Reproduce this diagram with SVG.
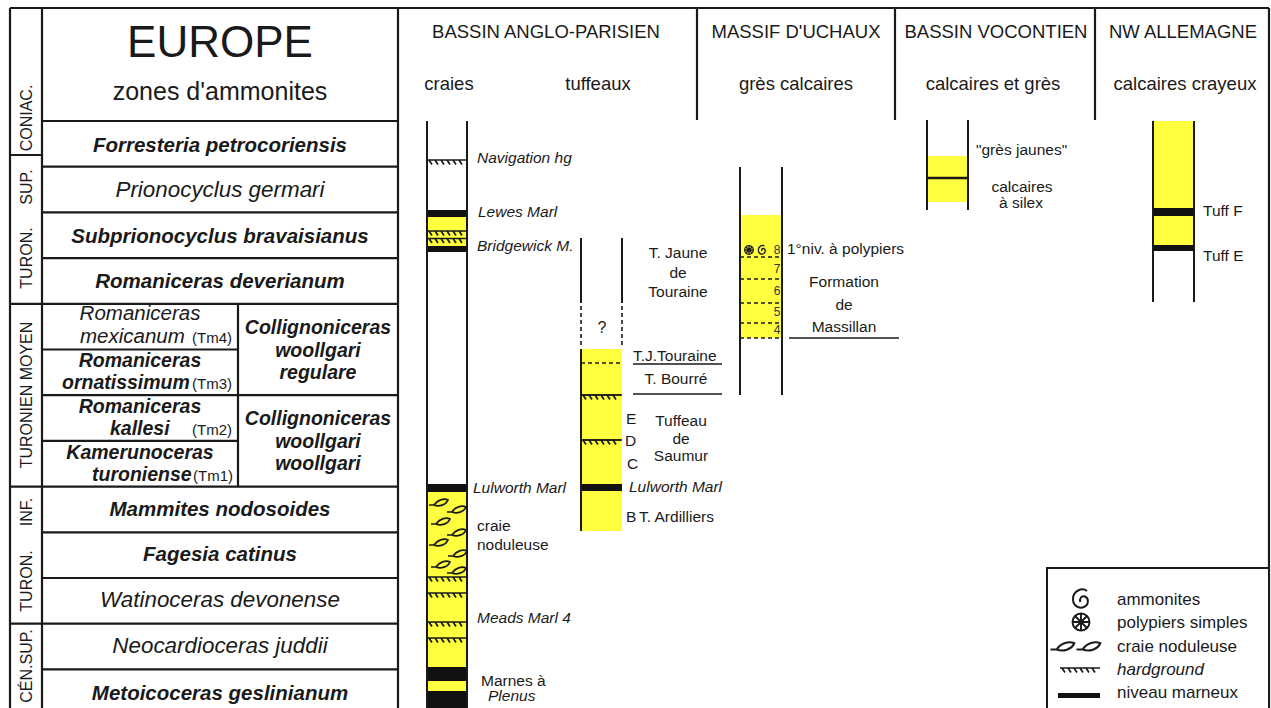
<svg xmlns="http://www.w3.org/2000/svg" width="1271" height="708" viewBox="0 0 1271 708">
<style>
text{font-family:"Liberation Sans",Arial,Helvetica,sans-serif;fill:#1a1a1a}
.ln{stroke:#1a1a1a;stroke-width:2.2;fill:none}
.col{stroke:#1a1a1a;stroke-width:2;fill:none}
.dash{stroke:#1a1a1a;stroke-width:1.6;stroke-dasharray:4,3;fill:none}
.thin{stroke:#1a1a1a;stroke-width:1.5;fill:none}
.y{fill:#FFFF40}
.k{fill:#111}
.zb{font-size:20.5px;font-weight:bold;font-style:italic}
.zm{font-size:19.5px;font-weight:bold;font-style:italic}
.zi{font-size:22.4px;font-style:italic}
.zs{font-size:20.5px;font-style:italic}
.tm{font-size:15px}
.m{text-anchor:middle}
.st{font-size:16px}
.hd{font-size:18.5px}
.lb{font-size:15.5px}
.lbi{font-size:15.5px;font-style:italic}
.num{font-size:12px;fill:#333;text-anchor:middle}
.lg{font-size:17px}
.sym{stroke:#1a1a1a;stroke-width:1.7;fill:none}
</style>
<defs>
<g id="hg" class="sym"><path d="M0,0H40M2,0l3,4.5M8,0l3,4.5M14,0l3,4.5M20,0l3,4.5M26,0l3,4.5M32,0l3,4.5"/></g>
<g id="nod" class="sym"><path d="M-10,2H-5M-5,2C-2,-3 5,-5 9,-3C7,2 0,4 -5,2Z"/></g>
</defs>
<rect width="1271" height="708" fill="#fff"/>

<g id="frame">
<path class="ln" d="M10,8H1269M10,8V708M42,8V708M398,8V708M1269,8V708M697,8V120M895,8V120M1095,8V120"/>
<path class="ln" d="M42,121H398M42,166.7H398M42,212.4H398M42,258.1H398M42,303.8H398M42,349.5H238M42,395.2H398M42,440.9H238M42,486.6H398M42,532.3H398M42,578H398M42,623.7H398M42,669.4H398M238,303.8V486.6"/>
<path class="ln" d="M10,155H42M10,303.8H42M10,486.6H42M10,623.7H42"/>
</g>

<g id="stages" class="st">
<text class="m" transform="translate(32,118) rotate(-90)">CONIAC.</text>
<text class="m" transform="translate(32,187) rotate(-90)">SUP.</text>
<text class="m" transform="translate(32,258) rotate(-90)">TURON.</text>
<text class="m" transform="translate(32,395) rotate(-90)">TURONIEN MOYEN</text>
<text class="m" transform="translate(32,512) rotate(-90)">INF.</text>
<text class="m" transform="translate(32,581) rotate(-90)">TURON.</text>
<text class="m" transform="translate(32,666) rotate(-90)">CÉN.SUP.</text>
</g>

<g id="zones">
<text class="m" x="220" y="57" font-size="44">EUROPE</text>
<text class="m" x="220" y="100" font-size="25">zones d'ammonites</text>
<text class="m zb" x="220" y="152">Forresteria petrocoriensis</text>
<text class="m zi" x="220" y="197">Prionocyclus germari</text>
<text class="m zb" x="220" y="243">Subprionocyclus bravaisianus</text>
<text class="m zb" x="220" y="288">Romaniceras deverianum</text>
<text class="m zs" x="140" y="320">Romaniceras</text>
<text class="zs" x="80" y="343">mexicanum</text>
<text class="tm" x="192" y="343">(Tm4)</text>
<text class="m zm" x="140" y="367">Romaniceras</text>
<text class="zm" x="62" y="389">ornatissimum</text>
<text class="tm" x="192" y="389">(Tm3)</text>
<text class="m zm" x="140" y="413">Romaniceras</text>
<text class="zm" x="110" y="435">kallesi</text>
<text class="tm" x="192" y="435">(Tm2)</text>
<text class="m zm" x="140" y="459">Kamerunoceras</text>
<text class="zm" x="92" y="481">turoniense</text>
<text class="tm" x="193" y="481">(Tm1)</text>
<text class="m zm" x="318" y="334">Collignoniceras</text>
<text class="m zm" x="318" y="357">woollgari</text>
<text class="m zm" x="318" y="379">regulare</text>
<text class="m zm" x="318" y="425">Collignoniceras</text>
<text class="m zm" x="318" y="448">woollgari</text>
<text class="m zm" x="318" y="470">woollgari</text>
<text class="m zb" x="220" y="516">Mammites nodosoides</text>
<text class="m zb" x="220" y="561">Fagesia catinus</text>
<text class="m zi" x="220" y="607">Watinoceras devonense</text>
<text class="m zi" x="220" y="653">Neocardioceras juddii</text>
<text class="m zb" x="220" y="700" font-size="21.5">Metoicoceras geslinianum</text>
</g>

<g id="headers" class="hd">
<text class="m" x="546" y="38">BASSIN ANGLO-PARISIEN</text>
<text class="m" x="796" y="38">MASSIF D'UCHAUX</text>
<text class="m" x="996" y="38">BASSIN VOCONTIEN</text>
<text class="m" x="1183" y="38">NW ALLEMAGNE</text>
<text class="m" x="449" y="90">craies</text>
<text class="m" x="598" y="90">tuffeaux</text>
<text class="m" x="796" y="90">grès calcaires</text>
<text class="m" x="993" y="90">calcaires et grès</text>
<text class="m" x="1185" y="90">calcaires crayeux</text>
</g>

<g id="craies">
<rect class="y" x="427" y="217" width="40" height="29"/>
<rect class="k" x="427" y="210" width="40" height="7"/>
<use href="#hg" x="427" y="231" style="stroke-width:2"/>
<use href="#hg" x="427" y="238.5"/>
<rect class="k" x="427" y="246" width="40" height="6"/>
<use href="#hg" x="427" y="160"/>
<rect class="k" x="427" y="484" width="40" height="8"/>
<rect class="y" x="427" y="492" width="40" height="175"/>
<use href="#nod" x="439" y="503"/>
<use href="#nod" x="457" y="510"/>
<use href="#nod" x="441" y="522"/>
<use href="#nod" x="457" y="533"/>
<use href="#nod" x="439" y="543"/>
<use href="#nod" x="458" y="554"/>
<use href="#nod" x="441" y="565"/>
<use href="#nod" x="457" y="571"/>
<use href="#hg" x="427" y="577"/>
<use href="#hg" x="427" y="593"/>
<use href="#hg" x="427" y="622"/>
<use href="#hg" x="427" y="638"/>
<rect class="k" x="427" y="667" width="40" height="14"/>
<rect class="y" x="427" y="681" width="40" height="10"/>
<rect class="k" x="427" y="691" width="40" height="17"/>
<path class="col" d="M427,121V708M467,121V708"/>
<text class="lbi" x="477" y="163">Navigation hg</text>
<text class="lbi" x="478" y="217">Lewes Marl</text>
<text class="lbi" x="477" y="251">Bridgewick M.</text>
<text class="lbi" x="473" y="493">Lulworth Marl</text>
<text class="lb" x="477" y="531">craie</text>
<text class="lb" x="477" y="550">noduleuse</text>
<text class="lbi" x="477" y="623">Meads Marl 4</text>
<text class="lb" x="481" y="686">Marnes à</text>
<text class="lbi" x="488" y="701">Plenus</text>
</g>

<g id="tuffeaux">
<rect class="y" x="581" y="349" width="41" height="182"/>
<path class="dash" d="M581,363H622"/>
<use href="#hg" x="581" y="395"/>
<path class="thin" d="M581,395H622M581,440H622"/>
<use href="#hg" x="581" y="440"/>
<rect class="k" x="581" y="484" width="41" height="7"/>
<path class="col" d="M581,238V303M622,238V303M581,349V531"/>
<path class="dash" d="M581,306V347M622,306V347"/>
<text class="m" x="602" y="333" font-size="16">?</text>
<text class="m lb" x="678" y="258">T. Jaune</text>
<text class="m lb" x="678" y="278">de</text>
<text class="m lb" x="678" y="297">Touraine</text>
<text class="lb" x="633" y="361">T.J.Touraine</text>
<path class="thin" d="M633,364H722M633,394H722"/>
<text class="m lb" x="676" y="384">T. Bourré</text>
<text class="lb" x="626" y="424">E</text>
<text class="lb" x="625" y="446">D</text>
<text class="lb" x="627" y="469">C</text>
<text class="m lb" x="681" y="426">Tuffeau</text>
<text class="m lb" x="681" y="444">de</text>
<text class="m lb" x="681" y="461">Saumur</text>
<text class="lbi" x="629" y="492">Lulworth Marl</text>
<text class="lb" x="626" y="522">B</text>
<text class="lb" x="639" y="522">T. Ardilliers</text>
</g>

<g id="uchaux">
<rect class="y" x="740" y="215" width="42" height="123"/>
<path class="dash" d="M740,257H782M740,279H782M740,303H782M740,323H782M740,338H782"/>
<path class="col" d="M740,167V395M782,167V395"/>
<g class="sym" style="stroke-width:1.3">
<circle cx="749" cy="250" r="4.3"/>
<path d="M744.7,250H753.3M749,245.7V254.3M746,247L752,253M752,247L746,253"/>
<path d="M764.5,246C762,244.5 758.3,246.5 758.3,250C758.3,253.5 761.5,255 764,253.5C766,252 765.5,249 763.5,248.5C762,248.2 761.2,249.8 762,251"/>
</g>
<text class="num" x="777" y="254">8</text>
<text class="num" x="777" y="273">7</text>
<text class="num" x="777" y="295">6</text>
<text class="num" x="777" y="316">5</text>
<text class="num" x="777" y="334">4</text>
<text class="lb" x="787" y="254">1°niv. à polypiers</text>
<text class="m lb" x="844" y="287">Formation</text>
<text class="m lb" x="844" y="310">de</text>
<text class="m lb" x="844" y="332">Massillan</text>
<path class="thin" d="M789,338H899"/>
</g>

<g id="vocontien">
<rect class="y" x="927" y="156" width="41" height="46"/>
<path class="col" d="M927,178H968" style="stroke-width:2.5"/>
<path class="col" d="M927,120V210M968,120V210"/>
<text class="lb" x="976" y="155">"grès jaunes"</text>
<text class="m lb" x="1022" y="192">calcaires</text>
<text class="m lb" x="1021" y="208">à silex</text>
</g>

<g id="allemagne">
<rect class="y" x="1153" y="121" width="41" height="129"/>
<rect class="k" x="1153" y="208" width="41" height="8"/>
<rect class="k" x="1153" y="245" width="41" height="6"/>
<path class="col" d="M1153,121V302M1194,121V302"/>
<text class="lb" x="1203" y="216">Tuff F</text>
<text class="lb" x="1203" y="261">Tuff E</text>
</g>

<g id="legend">
<rect x="1047" y="568" width="222" height="145" fill="#fff" stroke="#1a1a1a" stroke-width="2"/>
<path class="sym" style="stroke-width:2" d="M1087,591C1082,587 1073,591 1073,599C1073,606 1079,609 1084,607C1089,605 1089,598 1085,596.5C1081.5,595.5 1079,598.5 1080.5,602"/>
<g class="sym" style="stroke-width:1.9">
<circle cx="1081" cy="622" r="8.5"/>
<path d="M1072.5,622H1089.5M1081,613.5V630.5M1075,616L1087,628M1087,616L1075,628"/>
</g>
<use href="#nod" transform="translate(1063,647) scale(1.25)"/>
<use href="#nod" transform="translate(1089,647) scale(1.25)"/>
<use href="#hg" x="1060" y="668"/>
<rect class="k" x="1058" y="693" width="42" height="5"/>
<text class="lg" x="1117" y="605">ammonites</text>
<text class="lg" x="1117" y="628">polypiers simples</text>
<text class="lg" x="1117" y="652">craie noduleuse</text>
<text class="lg" x="1117" y="675" font-style="italic">hardground</text>
<text class="lg" x="1117" y="698">niveau marneux</text>
</g>
</svg>
